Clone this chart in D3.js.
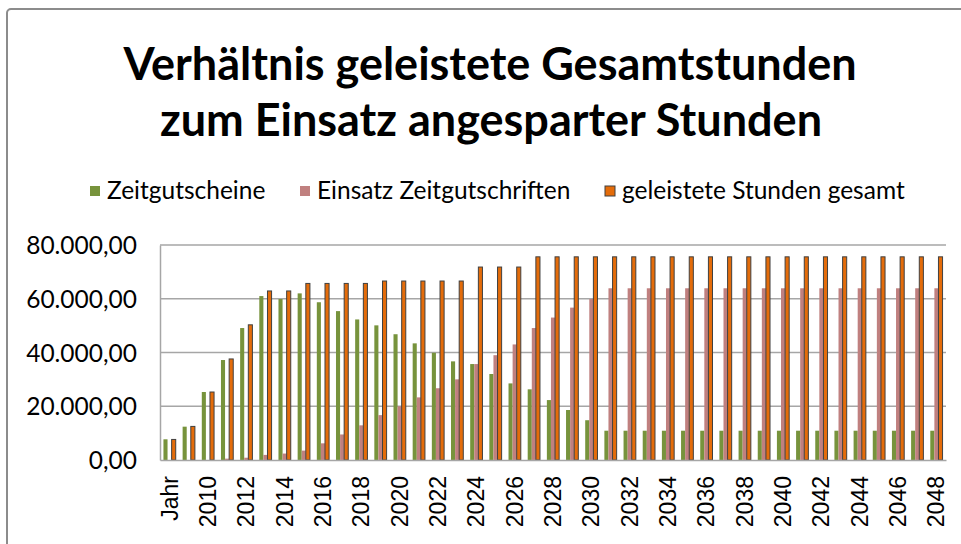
<!DOCTYPE html>
<html lang="de">
<head>
<meta charset="utf-8">
<title>Verhältnis geleistete Gesamtstunden</title>
<style>
  body { margin: 0; background: #fff; }
  svg { display: block; }
  .title { font-family: Lato, "Open Sans", sans-serif; font-weight: bold; fill: #000; }
  .legend text { font-family: Lato, "Open Sans", sans-serif; fill: #000; }
  .yaxis text { font-family: Lato, "Open Sans", sans-serif; fill: #000; }
  .xaxis text { font-family: "Liberation Sans", Arial, sans-serif; fill: #000; }
</style>
</head>
<body>
<div id="chart"></div>
<script src="https://cdnjs.cloudflare.com/ajax/libs/d3/7.8.5/d3.min.js"></script>
<script>
var categories = ["Jahr", "2009", "2010", "2011", "2012", "2013", "2014", "2015", "2016", "2017",
  "2018", "2019", "2020", "2021", "2022", "2023", "2024", "2025", "2026", "2027",
  "2028", "2029", "2030", "2031", "2032", "2033", "2034", "2035", "2036", "2037",
  "2038", "2039", "2040", "2041", "2042", "2043", "2044", "2045", "2046", "2047", "2048"];

var zeitgutscheine = [7700, 12400, 25300, 37200, 49100, 61000, 59900, 62000, 58700, 55400,
  52300, 50100, 46800, 43400, 39900, 36700, 35700, 32000, 28500, 26300,
  22300, 18600, 14800, 10900, 10900, 10900, 10900, 10900, 10900, 10900,
  10900, 10900, 10900, 10900, 10900, 10900, 10900, 10900, 10900, 10900, 10900];

var einsatz = [0, 0, 0, 500, 850, 1900, 2400, 3500, 6200, 9500,
  12900, 16700, 20000, 23300, 26700, 30000, 35700, 39000, 43000, 49100,
  53000, 56700, 59900, 63900, 63900, 63900, 63900, 63900, 63900, 63900,
  63900, 63900, 63900, 63900, 63900, 63900, 63900, 63900, 63900, 63900, 63900];

var gesamt = [7650, 12500, 25300, 37600, 50300, 62900, 62900, 65700, 65700, 65700,
  65700, 66600, 66600, 66600, 66600, 66600, 71800, 71800, 71800, 75600,
  75600, 75600, 75600, 75600, 75600, 75600, 75600, 75600, 75600, 75600,
  75600, 75600, 75600, 75600, 75600, 75600, 75600, 75600, 75600, 75600, 75600];

var seriesNames = ["Zeitgutscheine", "Einsatz Zeitgutschriften", "geleistete Stunden gesamt"];
var yTicks = [0, 20000, 40000, 60000, 80000];

var colors = ["#77933c", "#c0807f", "#e46c0a"];

var width = 961, height = 544;
var margin = {left: 160, right: 15, top: 245, bottom: 84};

var svg = d3.select("#chart").append("svg")
  .attr("width", width)
  .attr("height", height);

// chart frame
svg.append("rect")
  .attr("x", 7).attr("y", 9)
  .attr("width", 1000).attr("height", 600)
  .attr("rx", 4)
  .attr("fill", "#fff")
  .attr("stroke", "#8c8c8c")
  .attr("stroke-width", 2);

// title
svg.append("text").attr("class", "title")
  .attr("x", 490).attr("y", 80)
  .attr("text-anchor", "middle")
  .style("font-size", "45px")
  .text("Verhältnis geleistete Gesamtstunden");
svg.append("text").attr("class", "title")
  .attr("x", 491).attr("y", 136)
  .attr("text-anchor", "middle")
  .style("font-size", "45px")
  .text("zum Einsatz angesparter Stunden");

// legend
var legendX = [90, 300, 605];
var legend = svg.append("g").attr("class", "legend");
seriesNames.forEach(function(name, i) {
  var g = legend.append("g").attr("transform", "translate(" + legendX[i] + ",191)");
  g.append("rect")
    .attr("x", 0).attr("y", -5)
    .attr("width", 10).attr("height", 10)
    .attr("fill", colors[i])
    .attr("stroke", i == 2 ? "#404040" : "none")
    .attr("stroke-width", 1);
  g.append("text")
    .attr("x", 17).attr("y", 8)
    .style("font-size", "24.5px")
    .text(name);
});

var x0 = d3.scaleBand()
  .domain(categories)
  .range([margin.left, width - margin.right])
  .paddingInner(0.36)
  .paddingOuter(0.18);

var x1 = d3.scaleBand()
  .domain([0, 1, 2])
  .range([0, x0.bandwidth()]);

var y = d3.scaleLinear()
  .domain([0, 80000])
  .range([height - margin.bottom, margin.top]);

var de = d3.formatLocale({decimal: ",", thousands: ".", grouping: [3], currency: ["", " €"]});
var fmt = de.format(",.2f");

// gridlines
svg.append("g")
  .selectAll("line")
  .data(yTicks.slice(1))
  .enter().append("line")
  .attr("x1", margin.left).attr("x2", width - margin.right)
  .attr("y1", function(d) { return y(d); })
  .attr("y2", function(d) { return y(d); })
  .attr("stroke", "#a6a6a6")
  .attr("stroke-width", 1.5);

// bars
var data = categories.map(function(c, i) {
  return {cat: c, vals: [zeitgutscheine[i], einsatz[i], gesamt[i]]};
});

var groups = svg.append("g").selectAll("g")
  .data(data)
  .enter().append("g")
  .attr("transform", function(d) { return "translate(" + x0(d.cat) + ",0)"; });

groups.selectAll("rect")
  .data(function(d) { return d.vals.map(function(v, k) { return {k: k, v: v}; }); })
  .enter().append("rect")
  .attr("x", function(d) { return x1(d.k); })
  .attr("width", x1.bandwidth())
  .attr("y", function(d) { return y(d.v); })
  .attr("height", function(d) { return y(0) - y(d.v); })
  .attr("fill", function(d) { return colors[d.k]; })
  .attr("stroke", function(d) { return d.k == 2 ? "#404040" : "none"; })
  .attr("stroke-width", 1);

// y axis
var yAxis = svg.append("g").attr("class", "yaxis")
  .attr("transform", "translate(" + margin.left + ",0)")
  .call(d3.axisLeft(y).tickValues(yTicks).tickFormat(fmt).tickSize(0).tickPadding(23));
yAxis.select(".domain").attr("stroke", "#a6a6a6").attr("stroke-width", 1.5);
yAxis.selectAll("text").style("font-size", "24.5px").attr("dy", "0.35em");

// x axis
var xAxis = svg.append("g").attr("class", "xaxis")
  .attr("transform", "translate(0," + y(0) + ")")
  .call(d3.axisBottom(x0).tickValues(categories.filter(function(c, i) { return i % 2 == 0; })).tickSize(0));
xAxis.select(".domain").attr("stroke", "#a6a6a6").attr("stroke-width", 1.5);
xAxis.selectAll("text")
  .style("font-size", "23px")
  .attr("text-anchor", "end")
  .attr("transform", "rotate(-90)")
  .attr("x", -16)
  .attr("y", 0)
  .attr("dy", "0.35em");
</script>
</body>
</html>
